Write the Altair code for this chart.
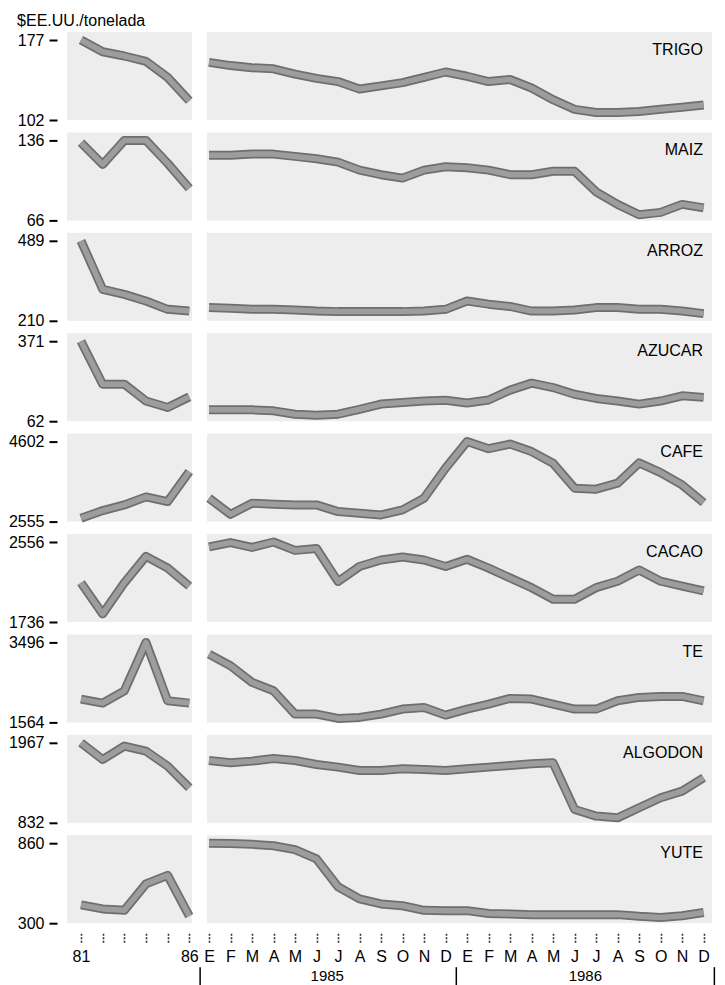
import altair as alt
import pandas as pd

FONT = "Liberation Sans"

commodities = ["TRIGO", "MAIZ", "ARROZ", "AZUCAR", "CAFE", "CACAO", "TE", "ALGODON", "YUTE"]
axis_min = [102, 66, 210, 62, 2555, 1736, 1564, 832, 300]
axis_max = [177, 136, 489, 371, 4602, 2556, 3496, 1967, 860]

years = [81, 82, 83, 84, 85, 86]
month_index = list(range(24))
month_letters = ["E", "F", "M", "A", "M", "J", "J", "A", "S", "O", "N", "D",
                 "E", "F", "M", "A", "M", "J", "J", "A", "S", "O", "N", "D"]
year_names = ["1985", "1986"]
year_centers = [5.5, 17.5]
year_bounds_right = [11.5, 23.5]
year_bound_left = [86.5]

trigo_annual = [177, 166, 162, 157, 142, 120]
trigo_monthly = [156, 153, 151, 150, 145, 141, 138, 131, 134, 137, 142, 147,
                 143, 138, 140, 132, 121, 112, 109, 109, 110, 112, 114, 116]
maiz_annual = [134, 115, 136, 136, 116, 94]
maiz_monthly = [123, 123, 124, 124, 122, 120, 117, 110, 106, 103, 110, 113,
                112, 110, 106, 106, 109, 109, 91, 80, 71, 73, 80, 77]
arroz_annual = [489, 320, 302, 279, 250, 244]
arroz_monthly = [256, 254, 250, 250, 248, 244, 242, 242, 242, 242, 244, 250,
                 279, 268, 260, 244, 244, 248, 256, 256, 250, 250, 244, 235]
azucar_annual = [371, 205, 205, 140, 115, 156]
azucar_monthly = [106, 106, 106, 102, 89, 85, 89, 108, 128, 134, 140, 143,
                  132, 144, 182, 209, 192, 166, 150, 140, 128, 140, 160, 154]
cafe_annual = [2642, 2836, 2982, 3187, 3067, 3835]
cafe_monthly = [3154, 2740, 3026, 3000, 2982, 2982, 2811, 2770, 2726, 2854, 3154, 3922,
                4602, 4420, 4538, 4346, 4049, 3410, 3384, 3538, 4057, 3809, 3494, 3041]
cacao_annual = [2138, 1819, 2138, 2409, 2289, 2104]
cacao_monthly = [2506, 2550, 2500, 2556, 2470, 2490, 2150, 2305, 2372, 2402, 2372, 2305,
                 2379, 2289, 2188, 2088, 1970, 1970, 2088, 2154, 2269, 2154, 2104, 2054]
te_annual = [2127, 2030, 2327, 3496, 2086, 2030]
te_monthly = [3214, 2931, 2530, 2327, 1764, 1764, 1661, 1685, 1764, 1885, 1926, 1740,
              1885, 2006, 2144, 2127, 2006, 1885, 1885, 2086, 2168, 2192, 2192, 2086]
algodon_annual = [1967, 1730, 1920, 1849, 1636, 1329]
algodon_monthly = [1716, 1683, 1707, 1744, 1716, 1659, 1622, 1574, 1574, 1598, 1588, 1574,
                   1598, 1622, 1645, 1669, 1683, 1021, 927, 903, 1045, 1187, 1282, 1471]
yute_annual = [428, 400, 390, 575, 635, 350]
yute_monthly = [860, 858, 852, 842, 815, 750, 555, 470, 435, 422, 390, 388,
                388, 368, 365, 360, 360, 360, 360, 360, 348, 340, 352, 375]

annual = [trigo_annual, maiz_annual, arroz_annual, azucar_annual, cafe_annual,
          cacao_annual, te_annual, algodon_annual, yute_annual]
monthly = [trigo_monthly, maiz_monthly, arroz_monthly, azucar_monthly, cafe_monthly,
           cacao_monthly, te_monthly, algodon_monthly, yute_monthly]

LW, RW, H = 125, 505, 88
FS = 16
OUTER, INNER = "#6e6e6e", "#9d9d9d"

xs_left = alt.Scale(domain=[80.354, 86.125], nice=False, zero=False)
xs_right = alt.Scale(domain=[-0.093, 23.39], nice=False, zero=False)

month_expr = "[" + ",".join("'%s'" % m for m in month_letters) + "][datum.value]"

bottom_axis_common = dict(offset=10, tickSize=10, tickWidth=1.6, tickColor="#333333",
                          tickDash=[2, 1.5], domain=False, grid=False, labelFontSize=FS,
                          labelPadding=5, title=None, labelFont=FONT, labelColor="black",
                          labelFlush=False, labelOverlap=False)


def lines(df, xenc, yenc):
    base = alt.Chart(df).encode(x=xenc, y=yenc)
    o = base.mark_line(color=OUTER, strokeWidth=9, strokeJoin="round", strokeCap="butt")
    i = base.mark_line(color=INNER, strokeWidth=5.5, strokeJoin="round", strokeCap="butt")
    return o, i


lefts, rights = [], []
n = len(commodities)
for k in range(n):
    lo, hi = axis_min[k], axis_max[k]
    ys = alt.Scale(domain=[lo, hi + (hi - lo) * 8 / 80], nice=False, zero=False)
    last = k == n - 1

    yaxis = alt.Axis(values=[lo, hi], offset=10, tickSize=8, tickWidth=2, tickColor="black",
                     domain=False, grid=False, labelFontSize=FS, labelPadding=5,
                     title=None, labelFont=FONT, labelColor="black", format="d",
                     labelOverlap=False)
    if last:
        xaxis_l = alt.Axis(values=years,
                           labelExpr="datum.value == 81 || datum.value == 86 ? datum.value : ''",
                           **bottom_axis_common)
        xaxis_r = alt.Axis(values=month_index, labelExpr=month_expr, **bottom_axis_common)
    else:
        xaxis_l = None
        xaxis_r = None

    xl = alt.X("t:Q", scale=xs_left, axis=xaxis_l)
    dfl = pd.DataFrame({"t": years, "value": annual[k]})
    o, i = lines(dfl, xl, alt.Y("value:Q", scale=ys, axis=yaxis))
    llayers = [o, i]
    if last:
        sep_l = alt.Chart(pd.DataFrame({"t": year_bound_left})).mark_rule(
            color="black", strokeWidth=1.5
        ).encode(x=xl, y=alt.value(H + 44), y2=alt.value(H + 62))
        llayers.append(sep_l)
    lefts.append(alt.layer(*llayers).properties(width=LW, height=H))

    dfr = pd.DataFrame({"t": month_index, "value": monthly[k]})
    xr = alt.X("t:Q", scale=xs_right, axis=xaxis_r)
    o, i = lines(dfr, xr, alt.Y("value:Q", scale=ys, axis=None))
    label = alt.Chart(pd.DataFrame({"name": [commodities[k]]})).mark_text(
        align="right", baseline="middle", fontSize=FS, font=FONT, color="black"
    ).encode(text="name:N", x=alt.value(RW - 9), y=alt.value(18))
    layers = [o, i, label]
    if last:
        seps = alt.Chart(pd.DataFrame({"t": year_bounds_right})).mark_rule(
            color="black", strokeWidth=1.5
        ).encode(x=xr, y=alt.value(H + 44), y2=alt.value(H + 62))
        ylab = alt.Chart(pd.DataFrame({"t": year_centers, "name": year_names})).mark_text(
            baseline="middle", fontSize=15, font=FONT, color="black"
        ).encode(x=xr, y=alt.value(H + 53), text="name:N")
        layers += [seps, ylab]
    rights.append(alt.layer(*layers).properties(width=RW, height=H))

left_col = alt.vconcat(*lefts, spacing=12.4, bounds="flush")
right_col = alt.vconcat(*rights, spacing=12.4, bounds="flush")

chart = alt.hconcat(left_col, right_col, spacing=2).properties(
    padding={"left": 0, "top": 5, "right": 0, "bottom": 0},
    title=alt.TitleParams(text="$EE.UU./tonelada", anchor="start", fontSize=FS,
                          fontWeight="normal", font=FONT, color="black", offset=3, dx=8.7),
).configure_view(fill="#ededed", stroke=None)

chart.save("out.html", embed_options={"renderer": "svg", "actions": False})
